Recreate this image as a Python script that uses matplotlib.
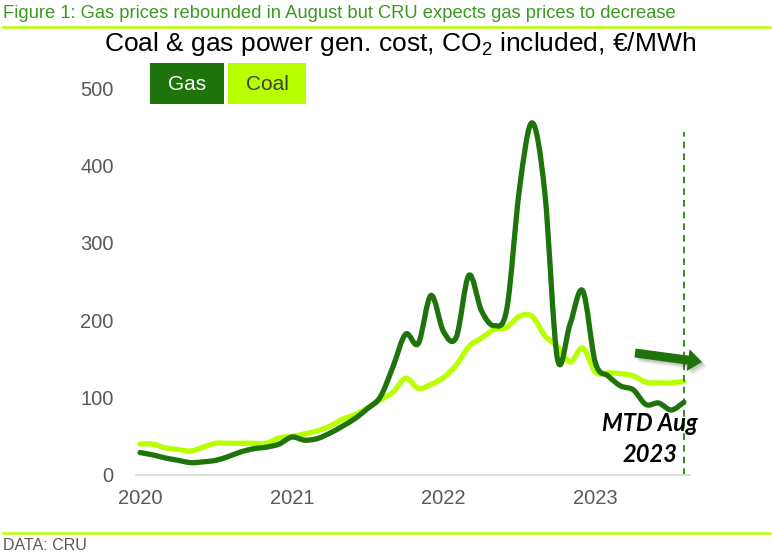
import matplotlib
matplotlib.use("Agg")
import matplotlib.pyplot as plt
import numpy as np
from matplotlib.patches import Rectangle, Polygon, PathPatch
from matplotlib.path import Path
from matplotlib.lines import Line2D

plt.rcParams["mathtext.fontset"] = "custom"
plt.rcParams["mathtext.rm"] = "Liberation Sans"

# monthly cost, Jan 2020 .. Aug 2023 (EUR/MWh, CO2 included)
gas = [29, 26, 22, 19, 16, 17, 19, 24, 30, 34, 36, 40,
       49, 45, 47, 54, 63, 73, 86, 101, 140, 182, 170, 232,
       185, 178, 258, 212, 193, 215, 370, 455, 365, 150, 195, 238,
       145, 128, 115, 110, 91, 93, 84, 94]
coal = [40, 40, 35, 33, 31, 36, 41, 41, 41, 41, 41, 48,
        50, 53, 57, 63, 72, 78, 87, 97, 107, 125, 112, 117,
        126, 142, 166, 177, 188, 191, 205, 205, 180, 166, 146, 164,
        133, 132, 131, 128, 120, 119, 119, 121]
year_labels = ["2020", "2021", "2022", "2023"]
y_ticks = [0, 100, 200, 300, 400, 500]

GAS_C = "#1E730B"
COAL_C = "#B8FF00"
GREY = "#595959"
TITLE_C = "#3A9A1E"

W, H = 772, 560
fig = plt.figure(figsize=(W / 100, H / 100), dpi=100)
fig.patch.set_facecolor("white")


def fx(px):
    return px / W


def fy(py):
    return 1 - py / H


def smooth_path(xs, ys):
    # excel-style smoothed line: bezier segments through every data point
    pts = np.column_stack([xs, ys]).astype(float)
    n = len(pts)
    verts = [pts[0]]
    codes = [Path.MOVETO]
    for i in range(n - 1):
        p0 = pts[max(i - 1, 0)]
        p1 = pts[i]
        p2 = pts[i + 1]
        p3 = pts[min(i + 2, n - 1)]
        verts += [p1 + (p2 - p0) / 6, p2 - (p3 - p1) / 6, p2]
        codes += [Path.CURVE4] * 3
    return Path(verts, codes)


# plot area
ax = fig.add_axes([fx(136), fy(475), fx(690) - fx(136), fy(88) - fy(475)])
months = np.arange(len(gas))
ax.add_patch(PathPatch(smooth_path(months, coal), fill=False, edgecolor=COAL_C, lw=3.8,
                       joinstyle="round", capstyle="round", zorder=2))
ax.add_patch(PathPatch(smooth_path(months, gas), fill=False, edgecolor=GAS_C, lw=3.8,
                       joinstyle="round", capstyle="round", zorder=3))

ax.set_xlim(-0.32, 43.48)
ax.set_ylim(0, 500)
ax.set_yticks(y_ticks)
ax.set_yticklabels([str(v) for v in y_ticks])
ax.set_xticks([0, 12, 24, 36])
ax.set_xticklabels(year_labels)
for s in ["top", "right", "left"]:
    ax.spines[s].set_visible(False)
ax.spines["bottom"].set_color("#D9D9D9")
ax.spines["bottom"].set_linewidth(1.2)
ax.tick_params(axis="both", length=0, labelsize=14.5, labelcolor=GREY)
ax.tick_params(axis="y", pad=16)
ax.tick_params(axis="x", pad=10)
for lab in ax.get_xticklabels() + ax.get_yticklabels():
    lab.set_fontfamily("Liberation Sans")

# month-to-date marker
last = len(gas) - 1
ax.vlines(last, 0, 443, colors=GAS_C, linestyles=(0, (4, 3)), lw=1.2, clip_on=False)
ax.text(last - 2.7, 67, "MTD Aug", ha="center", va="center", fontsize=17,
        fontweight="bold", fontstyle="italic", family="Lato", color="black")
ax.text(last - 2.7, 26, "2023", ha="center", va="center", fontsize=17,
        fontweight="bold", fontstyle="italic", family="Lato", color="black")


def arrow_poly(x0, y0, x1, y1, shaft=9.0, head_w=22.0, head_l=14.0):
    # arrow outline in figure pixels (y down), returned in figure fraction
    d = np.array([x1 - x0, y1 - y0], float)
    L = np.hypot(*d)
    u = d / L
    nrm = np.array([-u[1], u[0]])
    p0 = np.array([x0, y0], float)
    base = p0 + u * (L - head_l)
    tip = p0 + u * L
    pts = [p0 + nrm * shaft / 2, base + nrm * shaft / 2, base + nrm * head_w / 2, tip,
           base - nrm * head_w / 2, base - nrm * shaft / 2, p0 - nrm * shaft / 2]
    return [(fx(px), fy(py)) for px, py in pts]


# expected direction arrow with soft shadow
for off, alpha in [(5, 0.06), (3.5, 0.08), (2, 0.1)]:
    fig.patches.append(Polygon(arrow_poly(635 + off, 353 + off, 702 + off, 362 + off),
                               closed=True, transform=fig.transFigure, facecolor="black",
                               alpha=alpha, edgecolor="none"))
fig.patches.append(Polygon(arrow_poly(635, 353, 702, 362), closed=True,
                           transform=fig.transFigure, facecolor=GAS_C, edgecolor="none"))

# legend boxes
fig.patches.append(Rectangle((fx(150), fy(104)), fx(224) - fx(150), fy(63) - fy(104),
                             transform=fig.transFigure, facecolor=GAS_C, edgecolor="none"))
fig.patches.append(Rectangle((fx(228), fy(104)), fx(306) - fx(228), fy(63) - fy(104),
                             transform=fig.transFigure, facecolor=COAL_C, edgecolor="none"))
fig.text(fx(187), fy(84), "Gas", ha="center", va="center", fontsize=15, color="white",
         family="Liberation Sans")
fig.text(fx(267), fy(84), "Coal", ha="center", va="center", fontsize=15, color="#404040",
         family="Liberation Sans")

# titles and rules
fig.text(fx(3), fy(13), "Figure 1: Gas prices rebounded in August but CRU expects gas prices to decrease",
         ha="left", va="center", fontsize=13.2, color=TITLE_C, family="Liberation Sans")
fig.add_artist(Line2D([fx(3), fx(770)], [fy(27), fy(27)], color=COAL_C, lw=1.8))
fig.text(fx(400), fy(44), "Coal & gas power gen. cost, CO$_2$ included, €/MWh",
         ha="center", va="center", fontsize=19, color="black", family="Liberation Sans")
fig.add_artist(Line2D([fx(3), fx(770)], [fy(533), fy(533)], color=COAL_C, lw=1.8))
fig.text(fx(3), fy(546), "DATA: CRU", ha="left", va="center", fontsize=11.5, color=GREY,
         family="Liberation Sans")

fig.savefig("out.png", dpi=100)
